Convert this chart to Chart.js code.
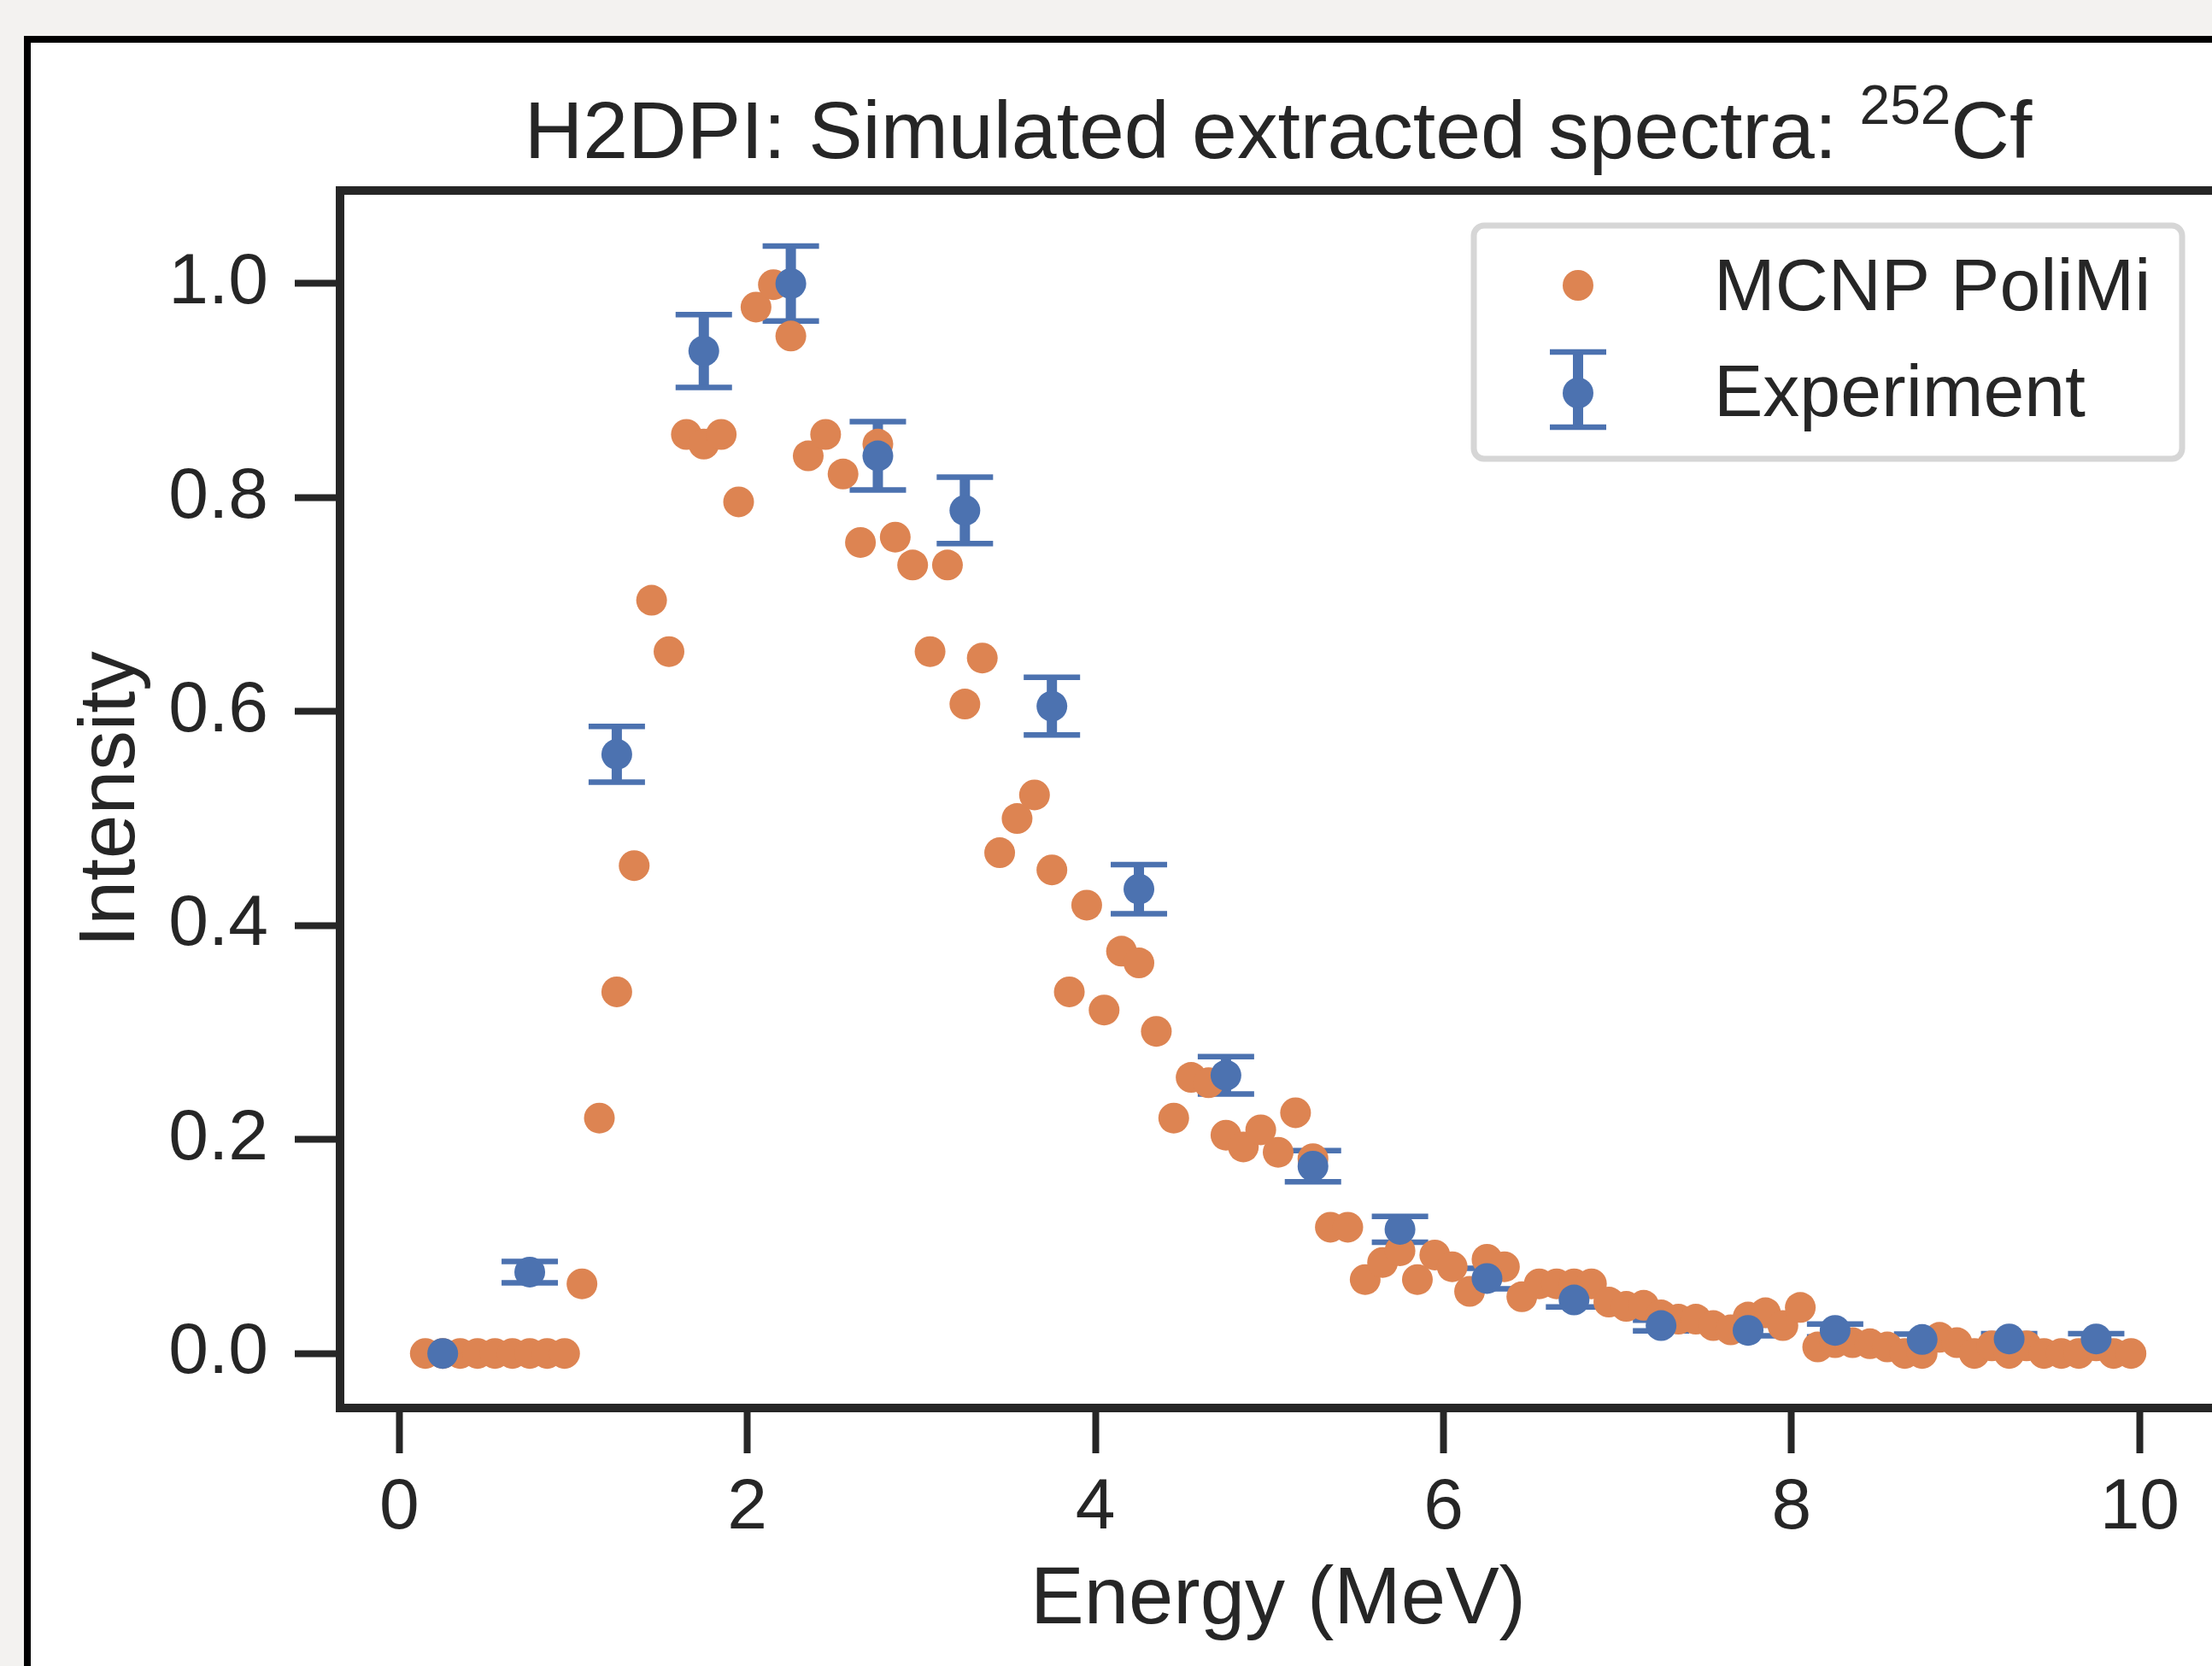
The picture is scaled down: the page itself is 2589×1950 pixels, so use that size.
<!DOCTYPE html>
<html lang="en">
<head>
<meta charset="UTF-8">
<title>H2DPI: Simulated extracted spectra</title>
<script src="https://cdn.jsdelivr.net/npm/chart.js@4.4.0/dist/chart.umd.min.js"></script>
<style>
    html, body {
        margin: 0;
        padding: 0;
        width: 2589px;
        height: 1950px;
        overflow: hidden;
        background-color: #f3f2f0;
    }

    .figure {
        position: absolute;
        left: 28px;
        top: 42px;
        width: 2700px;
        height: 2000px;
        background-color: #ffffff;
        border-left: 8px solid #000000;
        border-top: 8px solid #000000;
    }

    #chart {
        position: absolute;
        left: 0;
        top: 0;
    }
</style>
</head>
<body>
<div class="figure"></div>
<canvas id="chart" width="2700" height="1950"></canvas>
<script>
    // MCNP PoliMi simulation, 0.1 MeV bins
    var simEnergy = [
        0.15, 0.25, 0.35, 0.45, 0.55, 0.65, 0.75, 0.85, 0.95, 1.05,
        1.15, 1.25, 1.35, 1.45, 1.55, 1.65, 1.75, 1.85, 1.95, 2.05,
        2.15, 2.25, 2.35, 2.45, 2.55, 2.65, 2.75, 2.85, 2.95, 3.05,
        3.15, 3.25, 3.35, 3.45, 3.55, 3.65, 3.75, 3.85, 3.95, 4.05,
        4.15, 4.25, 4.35, 4.45, 4.55, 4.65, 4.75, 4.85, 4.95, 5.05,
        5.15, 5.25, 5.35, 5.45, 5.55, 5.65, 5.75, 5.85, 5.95, 6.05,
        6.15, 6.25, 6.35, 6.45, 6.55, 6.65, 6.75, 6.85, 6.95, 7.05,
        7.15, 7.25, 7.35, 7.45, 7.55, 7.65, 7.75, 7.85, 7.95, 8.05,
        8.15, 8.25, 8.35, 8.45, 8.55, 8.65, 8.75, 8.85, 8.95, 9.05,
        9.15, 9.25, 9.35, 9.45, 9.55, 9.65, 9.75, 9.85, 9.95
    ];
    var simIntensity = [
        0, 0, 0, 0, 0, 0, 0, 0, 0, 0.065,
        0.220, 0.338, 0.456, 0.704, 0.656, 0.859, 0.850, 0.859, 0.796, 0.978,
        0.999, 0.951, 0.839, 0.859, 0.822, 0.758, 0.850, 0.763, 0.737, 0.656,
        0.737, 0.607, 0.650, 0.468, 0.500, 0.522, 0.452, 0.338, 0.419, 0.321,
        0.376, 0.365, 0.301, 0.220, 0.258, 0.253, 0.204, 0.193, 0.209, 0.188,
        0.225, 0.182, 0.118, 0.118, 0.069, 0.085, 0.096, 0.069, 0.092, 0.081,
        0.058, 0.088, 0.081, 0.053, 0.065, 0.065, 0.065, 0.065, 0.048, 0.044,
        0.045, 0.036, 0.032, 0.032, 0.026, 0.022, 0.034, 0.038, 0.026, 0.043,
        0.006, 0.010, 0.010, 0.009, 0.006, 0, 0, 0.015, 0.010, 0,
        0.007, 0, 0.007, 0, 0, 0, 0.007, 0, 0
    ];

    // Experiment, 0.5 MeV bins
    var expEnergy = [0.25, 0.75, 1.25, 1.75, 2.25, 2.75, 3.25, 3.75, 4.25, 4.75,
        5.25, 5.75, 6.25, 6.75, 7.25, 7.75, 8.25, 8.75, 9.25, 9.75];
    var expIntensity = [0.0, 0.076, 0.560, 0.937, 1.0, 0.839, 0.788, 0.605, 0.434, 0.260,
        0.175, 0.116, 0.070, 0.050, 0.026, 0.0215, 0.0215, 0.013, 0.0135, 0.0135];
    var expError = [0.002, 0.010, 0.026, 0.034, 0.035, 0.032, 0.031, 0.027, 0.023, 0.0175,
        0.0145, 0.012, 0.0095, 0.0065, 0.005, 0.005, 0.006, 0.005, 0.005, 0.005];

    var xTicks = [0, 2, 4, 6, 8, 10];
    var yTicks = [0.0, 0.2, 0.4, 0.6, 0.8, 1.0];

    var BLUE = '#4c72b0';
    var ORANGE = '#dd8452';
    var INK = '#262626';
    var FONT = '"Liberation Sans", Arimo, Arial, sans-serif';

    Chart.defaults.font.family = FONT;
    Chart.defaults.color = INK;

    function toPoints(xs, ys) {
        var pts = [];
        for (var i = 0; i < xs.length; i++) {
            pts.push({x: xs[i], y: ys[i]});
        }
        return pts;
    }

    function roundBox(ctx, x, y, w, h, r) {
        ctx.beginPath();
        ctx.moveTo(x + r, y);
        ctx.arcTo(x + w, y, x + w, y + h, r);
        ctx.arcTo(x + w, y + h, x, y + h, r);
        ctx.arcTo(x, y + h, x, y, r);
        ctx.arcTo(x, y, x + w, y, r);
        ctx.closePath();
    }

    function drawErrorMark(ctx, px, top, bot) {
        ctx.lineCap = 'butt';
        ctx.lineWidth = 12;
        ctx.beginPath();
        ctx.moveTo(px, top);
        ctx.lineTo(px, bot);
        ctx.stroke();
        ctx.lineWidth = 6.5;
        ctx.beginPath();
        ctx.moveTo(px - 33, top);
        ctx.lineTo(px + 33, top);
        ctx.moveTo(px - 33, bot);
        ctx.lineTo(px + 33, bot);
        ctx.stroke();
    }

    // error bars go under the markers
    var errorBars = {
        id: 'errorBars',
        beforeDatasetsDraw: function (chart) {
            var ctx = chart.ctx;
            var xs = chart.scales.x, ys = chart.scales.y;
            ctx.save();
            ctx.strokeStyle = BLUE;
            for (var i = 0; i < expEnergy.length; i++) {
                var px = xs.getPixelForValue(expEnergy[i]);
                var top = ys.getPixelForValue(expIntensity[i] + expError[i]);
                var bot = ys.getPixelForValue(expIntensity[i] - expError[i]);
                drawErrorMark(ctx, px, top, bot);
            }
            ctx.restore();
        }
    };

    var frame = {
        id: 'frame',
        afterDatasetsDraw: function (chart) {
            var a = chart.chartArea, ctx = chart.ctx;
            ctx.save();
            ctx.strokeStyle = INK;
            ctx.lineWidth = 10;
            ctx.lineJoin = 'miter';
            ctx.strokeRect(a.left, a.top, a.right - a.left, a.bottom - a.top);
            ctx.restore();
        }
    };

    var titleAndLegend = {
        id: 'titleAndLegend',
        afterDraw: function (chart) {
            var ctx = chart.ctx, a = chart.chartArea;
            ctx.save();

            // title with superscript mass number
            var main = 'H2DPI: Simulated extracted spectra: ';
            var sup = '252', tail = 'Cf';
            ctx.fillStyle = INK;
            ctx.textBaseline = 'alphabetic';
            ctx.font = '95px ' + FONT;
            var w1 = ctx.measureText(main).width;
            var w3 = ctx.measureText(tail).width;
            ctx.font = '64px ' + FONT;
            var w2 = ctx.measureText(sup).width;
            var x0 = (a.left + a.right) / 2 - (w1 + w2 + w3) / 2;
            ctx.font = '95px ' + FONT;
            ctx.textAlign = 'left';
            ctx.fillText(main, x0, 185);
            ctx.fillText(tail, x0 + w1 + w2, 185);
            ctx.font = '64px ' + FONT;
            ctx.fillText(sup, x0 + w1, 145);

            // legend
            var bx = a.right - 869, by = a.top + 41;
            roundBox(ctx, bx, by, 829, 273, 12);
            ctx.fillStyle = 'rgba(255,255,255,0.8)';
            ctx.fill();
            ctx.strokeStyle = '#d6d6d6';
            ctx.lineWidth = 7;
            ctx.stroke();

            var sim = chart.data.datasets[1], exp = chart.data.datasets[0];
            var mx = bx + 122;
            ctx.fillStyle = sim.backgroundColor;
            ctx.beginPath();
            ctx.arc(mx, by + 70, 18, 0, Math.PI * 2);
            ctx.fill();

            ctx.strokeStyle = exp.backgroundColor;
            drawErrorMark(ctx, mx, by + 148, by + 236);
            ctx.fillStyle = exp.backgroundColor;
            ctx.beginPath();
            ctx.arc(mx, by + 196, 18, 0, Math.PI * 2);
            ctx.fill();

            ctx.fillStyle = INK;
            ctx.font = '86px ' + FONT;
            ctx.textBaseline = 'middle';
            ctx.fillText(sim.label, bx + 281, by + 75);
            ctx.fillText(exp.label, bx + 281, by + 199);
            ctx.restore();
        }
    };

    var ctx = document.getElementById('chart').getContext('2d');
    var chart = new Chart(ctx, {
        type: 'scatter',
        data: {
            datasets: [
                {
                    label: 'Experiment',
                    data: toPoints(expEnergy, expIntensity),
                    backgroundColor: BLUE,
                    borderWidth: 0,
                    pointRadius: 18
                },
                {
                    label: 'MCNP PoliMi',
                    data: toPoints(simEnergy, simIntensity),
                    backgroundColor: ORANGE,
                    borderWidth: 0,
                    pointRadius: 18
                }
            ]
        },
        options: {
            responsive: false,
            animation: false,
            devicePixelRatio: 1,
            events: [],
            layout: {
                padding: {left: 0, top: 223, right: 106, bottom: 0}
            },
            plugins: {
                legend: {display: false},
                tooltip: {enabled: false},
                title: {display: false}
            },
            scales: {
                x: {
                    type: 'linear',
                    min: -0.34,
                    max: 10.44,
                    afterBuildTicks: function (scale) {
                        scale.ticks = xTicks.map(function (v) { return {value: v}; });
                    },
                    afterFit: function (scale) {
                        scale.height = 1950 - 1648;
                    },
                    border: {display: false},
                    grid: {
                        drawOnChartArea: false,
                        drawTicks: true,
                        tickLength: 53,
                        tickWidth: 8,
                        tickColor: INK
                    },
                    ticks: {
                        padding: 14,
                        color: INK,
                        font: {size: 84},
                        maxRotation: 0,
                        callback: function (v) { return String(v); }
                    },
                    title: {
                        display: true,
                        text: 'Energy (MeV)',
                        color: INK,
                        font: {size: 94},
                        padding: {top: 0, bottom: 20}
                    }
                },
                y: {
                    type: 'linear',
                    min: -0.051,
                    max: 1.087,
                    afterBuildTicks: function (scale) {
                        scale.ticks = yTicks.map(function (v) { return {value: v}; });
                    },
                    afterFit: function (scale) {
                        scale.width = 398;
                    },
                    border: {display: false},
                    grid: {
                        drawOnChartArea: false,
                        drawTicks: true,
                        tickLength: 53,
                        tickWidth: 8,
                        tickColor: INK
                    },
                    ticks: {
                        padding: 31,
                        color: INK,
                        font: {size: 84},
                        callback: function (v) { return v.toFixed(1); }
                    },
                    title: {
                        display: true,
                        text: 'Intensity',
                        color: INK,
                        font: {size: 93},
                        padding: {top: 76, bottom: 0}
                    }
                }
            }
        },
        plugins: [errorBars, frame, titleAndLegend]
    });
</script>
</body>
</html>
